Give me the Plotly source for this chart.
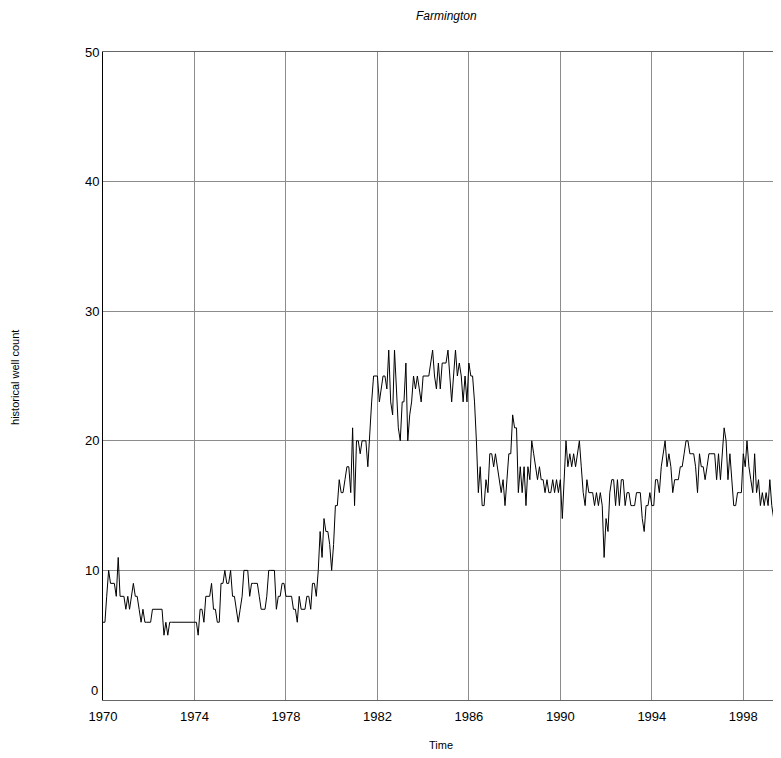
import pandas as pd
import plotly.graph_objects as go

# Monthly historical well counts, Farmington
counts_1970s = [
    6, 6, 8, 10, 9, 9, 9, 8, 11, 8, 8, 8,
    7, 8, 7, 8, 9, 8, 8, 7, 6, 7, 6, 6,
    6, 6, 7, 7, 7, 7, 7, 7, 5, 6, 5, 6,
    6, 6, 6, 6, 6, 6, 6, 6, 6, 6, 6, 6,
    6, 6, 5, 7, 7, 6, 8, 8, 8, 9, 7, 7,
    6, 6, 9, 9, 10, 9, 9, 10, 8, 8, 7, 6,
    7, 8, 10, 10, 10, 8, 9, 9, 9, 9, 8, 7,
    7, 7, 8, 10, 10, 10, 10, 7, 8, 8, 9, 9,
    8, 8, 8, 8, 7, 7, 6, 8, 7, 7, 7, 8,
    8, 7, 9, 9, 8, 10, 13, 11, 14, 13, 13, 12,
]
counts_1980s = [
    10, 12, 15, 15, 17, 16, 16, 17, 18, 18, 16, 21,
    15, 20, 20, 19, 20, 20, 20, 18, 21, 23, 25, 25,
    25, 23, 24, 25, 25, 24, 27, 23, 22, 27, 24, 21,
    20, 23, 23, 26, 20, 22, 23, 25, 24, 25, 24, 23,
    25, 25, 25, 25, 26, 27, 25, 24, 26, 24, 26, 26,
    26, 27, 25, 23, 25, 27, 25, 26, 25, 23, 25, 23,
    26, 25, 25, 23, 20, 16, 18, 15, 15, 17, 16, 19,
    19, 18, 19, 18, 17, 16, 17, 15, 17, 19, 19, 22,
    21, 21, 16, 18, 16, 18, 15, 18, 17, 20, 19, 18,
    17, 18, 17, 17, 16, 17, 16, 16, 17, 16, 17, 16,
]
counts_1990s = [
    17, 14, 17, 20, 18, 19, 18, 19, 18, 19, 20, 18,
    16, 15, 17, 16, 16, 16, 15, 16, 15, 16, 15, 11,
    14, 13, 16, 17, 17, 15, 17, 15, 17, 17, 15, 16,
    16, 15, 15, 15, 16, 16, 16, 14, 13, 15, 15, 16,
    15, 15, 17, 17, 16, 18, 19, 20, 18, 19, 18, 16,
    17, 17, 17, 18, 18, 19, 20, 20, 19, 19, 19, 18,
    16, 19, 18, 18, 17, 18, 19, 19, 19, 19, 17, 19,
    17, 19, 21, 20, 17, 19, 17, 15, 15, 16, 16, 16,
    19, 18, 20, 18, 17, 16, 19, 16, 17, 15, 16, 15,
    16, 15, 17, 15, 14, 16, 16, 14,
]

well_count = counts_1970s + counts_1980s + counts_1990s
months = pd.date_range("1970-01-01", periods=len(well_count), freq="MS")

y_tick_values = [0, 10, 20, 30, 40, 50]
y_tick_labels = ["", "10", "20", "30", "40", "50"]  # "0" drawn slightly raised below

title_text = "Farmington"
x_title = "Time"
y_title = "historical well count"

FONT = "Liberation Sans, Arial, sans-serif"

fig = go.Figure()
fig.add_trace(go.Scatter(
    x=months, y=well_count, mode="lines",
    line=dict(color="black", width=1),
    hoverinfo="x+y", showlegend=False,
))

fig.update_layout(
    width=781, height=758,
    margin=dict(l=95, r=0, t=44, b=66),
    paper_bgcolor="white", plot_bgcolor="white",
    font=dict(family=FONT, size=13, color="black"),
    xaxis=dict(
        type="date",
        range=["1970-01-01", "2000-01-01"],
        tick0="1970-01-01", dtick="M48", tickformat="%Y",
        showgrid=True, gridcolor="#8c8c8c", gridwidth=1,
        showline=True, linecolor="#666666", linewidth=1, mirror=True,
        ticks="outside", ticklen=4, tickcolor="rgba(0,0,0,0)",
        zeroline=False,
        tickfont=dict(size=13),
    ),
    yaxis=dict(
        range=[0, 50], tickmode="array",
        tickvals=y_tick_values, ticktext=y_tick_labels,
        showgrid=True, gridcolor="#8c8c8c", gridwidth=1,
        showline=True, linecolor="black", linewidth=1,
        ticks="", zeroline=False,
        tickfont=dict(size=13),
    ),
    annotations=[
        dict(text=str(y_tick_values[0]), xref="paper", yref="y",
             x=0, y=y_tick_values[0], xanchor="right", yanchor="middle",
             xshift=-3, yshift=10, showarrow=False, font=dict(size=13)),
        dict(text=title_text, xref="paper", yref="paper",
             x=0.5, y=1.055, xanchor="center", yanchor="middle",
             showarrow=False, font=dict(size=12, style="italic")),
        dict(text=x_title, xref="paper", yref="paper",
             x=0.4927, y=-0.0694, xanchor="center", yanchor="middle",
             showarrow=False, font=dict(size=11)),
        dict(text=y_title, xref="paper", yref="paper",
             x=-0.1283, y=0.4985, xanchor="center", yanchor="middle",
             textangle=-90, showarrow=False, font=dict(size=11)),
    ],
)

fig.write_html("out.html")
